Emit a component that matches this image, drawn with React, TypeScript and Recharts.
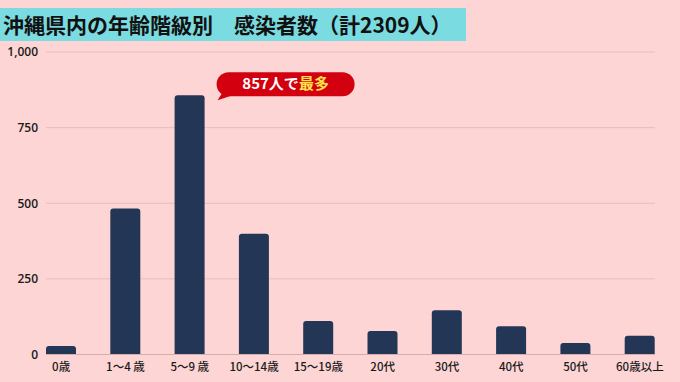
import { Bar, BarChart, CartesianGrid, XAxis, YAxis } from "recharts";

// 沖縄県内の年齢階級別 感染者数
const ageGroups = ["0歳", "1～4 歳", "5～9 歳", "10～14歳", "15～19歳", "20代", "30代", "40代", "50代", "60歳以上"];
const cases = [28, 483, 857, 399, 111, 78, 146, 93, 38, 62];
const yTicks = [0, 250, 500, 750, 1000];

const data = ageGroups.map((age, i) => ({ age, cases: cases[i] }));
const maxValue = Math.max(...cases);

const BG = "#fdd5d5";
const BAR = "#243656";

function PeakBubble(props: any) {
  const { x, y, width, value } = props;
  if (value !== maxValue) return null;
  const left = x + width + 12;
  const top = y - 23;
  const w = 138;
  const h = 24;
  return (
    <g>
      <path
        d={`M ${left + 6} ${top + h - 4} L ${left + 1} ${top + h + 4} L ${left + 16} ${top + h - 1} Z`}
        fill="#d3000f"
      />
      <rect x={left} y={top} width={w} height={h} rx={12} fill="#d3000f" />
      <text
        x={left + w / 2}
        y={top + h / 2 + 1}
        textAnchor="middle"
        dominantBaseline="middle"
        fontFamily="'Noto Sans CJK JP', sans-serif"
        fontWeight={700}
        fontSize={15}
      >
        <tspan fill="#ffffff">{value}人で</tspan>
        <tspan fill="#ffe24a">最多</tspan>
      </text>
    </g>
  );
}

export default function App() {
  return (
    <div style={{ position: "fixed", left: 0, top: 0, width: 680, height: 382, background: BG, overflow: "hidden" }}>
      <BarChart
        width={680}
        height={382}
        data={data}
        margin={{ top: 52, right: 25, bottom: 0, left: 6 }}
      >
        <CartesianGrid vertical={false} stroke="#e9bcbc" />
        <XAxis
          dataKey="age"
          padding={{ left: -17, right: -17 }}
          height={27.5}
          axisLine={{ stroke: "#d4adad" }}
          tickLine={false}
          interval={0}
          tick={{ fill: "#1a1a1a", fontSize: 11.5, fontWeight: 500, fontFamily: "'Noto Sans CJK JP', sans-serif" }}
        />
        <YAxis
          width={40}
          domain={[0, 1000]}
          ticks={yTicks}
          axisLine={false}
          tickLine={false}
          tickFormatter={(v: number) => v.toLocaleString("en-US")}
          tick={{ fill: "#1a1a1a", fontSize: 12, fontWeight: 600, fontFamily: "'Open Sans', sans-serif" }}
        />
        <Bar
          dataKey="cases"
          fill={BAR}
          barSize={30}
          radius={[3, 3, 0, 0]}
          isAnimationActive={false}
          label={<PeakBubble />}
        />
      </BarChart>
      <div
        style={{
          position: "absolute",
          left: 0,
          top: 8,
          width: 466,
          height: 33,
          background: "#7adbe0",
          fontFamily: "'Noto Sans CJK JP', sans-serif",
          fontWeight: 700,
          fontSize: 21,
          lineHeight: "33px",
          color: "#111",
          paddingLeft: 3,
          boxSizing: "border-box",
          whiteSpace: "nowrap",
        }}
      >
        沖縄県内の年齢階級別　感染者数（計2309人）
      </div>
    </div>
  );
}
